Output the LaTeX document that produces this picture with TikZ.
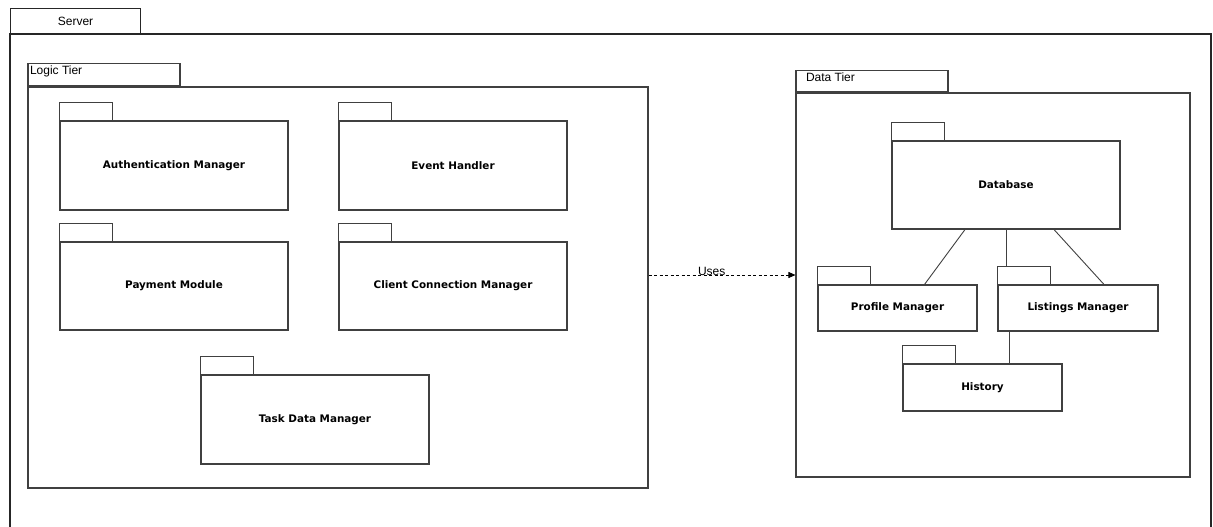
\documentclass[tikz,border=0pt]{standalone}
\usepackage{fontspec}
\setmainfont{Liberation Sans}
\newfontfamily\pkgfont{DejaVu Sans}
\usetikzlibrary{arrows.meta,positioning}

\begin{document}
\begin{tikzpicture}[x=1pt,y=-1pt,line width=1.1pt,
  pkg/.style={draw=black!75,inner sep=0pt,minimum width=228pt,minimum height=89pt,font=\pkgfont\bfseries\fontsize{10.4}{12}\selectfont},
  smallpkg/.style={pkg,minimum width=159pt,minimum height=46pt},
  frame/.style={draw=black!75,inner sep=0pt},
  tabbox/.style={frame,anchor=south west,minimum width=152pt},
  lbl/.style={inner sep=0pt,font=\fontsize{12}{14}\selectfont},
  uses/.style={-{Triangle[length=7pt,width=6pt]},dash pattern=on 3pt off 2.5pt,line width=0.9pt}]
	\useasboundingbox (0,0) rectangle (1213,527);
	% server frame (runs off the bottom)
	\draw[black!85] (10,527)--(10,34)--(1211,34)--(1211,527);
	\node[frame,draw=black!85,anchor=north west,minimum width=130pt,minimum height=26pt,lbl] (servertab) at (10,8) {Server};
	% logic tier
	\node[frame,minimum width=620pt,minimum height=401pt] (logic) at (338,287.5) {};
	\node[tabbox,minimum height=22pt] (logictab) at (logic.north west) {};
	\node[lbl,anchor=north west] (logiclbl) at ([xshift=2pt,yshift=-2pt]logictab.north west) {Logic Tier};
	\node[pkg] (auth) at (174,165.5) {Authentication Manager};
	\node[pkg] (event) at (453,165.5) {Event Handler};
	\node[pkg,minimum height=88pt] (pay) at (174,286) {Payment Module};
	\node[pkg,minimum height=88pt] (client) at (453,286) {Client Connection Manager};
	\node[pkg] (task) at (315,419.5) {Task Data Manager};
	% data tier
	\node[frame,minimum width=394pt,minimum height=384pt] (data) at (993,285) {};
	\node[tabbox,minimum height=21pt] (datatab) at (data.north west) {};
	\node[lbl,anchor=north west] (datalbl) at ([xshift=10pt,yshift=-2pt]datatab.north west) {Data Tier};
	\node[pkg,minimum height=88pt] (db) at (1006,185) {Database};
	\node[smallpkg] (prof) at (897.5,308) {Profile Manager};
	\node[smallpkg,minimum width=160pt] (list) at (1078,308) {Listings Manager};
	\node[smallpkg,minimum height=47pt] (hist) at (982.5,387.5) {History};
	\foreach \n in {auth,event,pay,client,task,db,prof,list,hist}
	\draw[black!75] (\n.north west) rectangle ++(53,-18);
	% links inside data tier
	\coordinate (listtab) at ([xshift=9pt,yshift=18pt]list.north west);
	\draw[black!75,line width=0.9pt] ([xshift=-41pt]db.south) -- ([xshift=27pt]prof.north);
	\draw[black!75,line width=0.9pt] (db.south -| listtab) -- (listtab);
	\draw[black!75,line width=0.9pt] ([xshift=48pt]db.south) -- ([xshift=26pt]list.north);
	\draw[black!75,line width=0.9pt] ([xshift=-69pt]list.south) -- ([xshift=26.5pt]hist.north);
	\coordinate (usesfrom) at ([yshift=12.5pt]logic.east);
	\draw[uses] (usesfrom) -- (usesfrom -| data.west) node[lbl,pos=0.43,above,yshift=-1pt] {Uses};
\end{tikzpicture}
\end{document}
